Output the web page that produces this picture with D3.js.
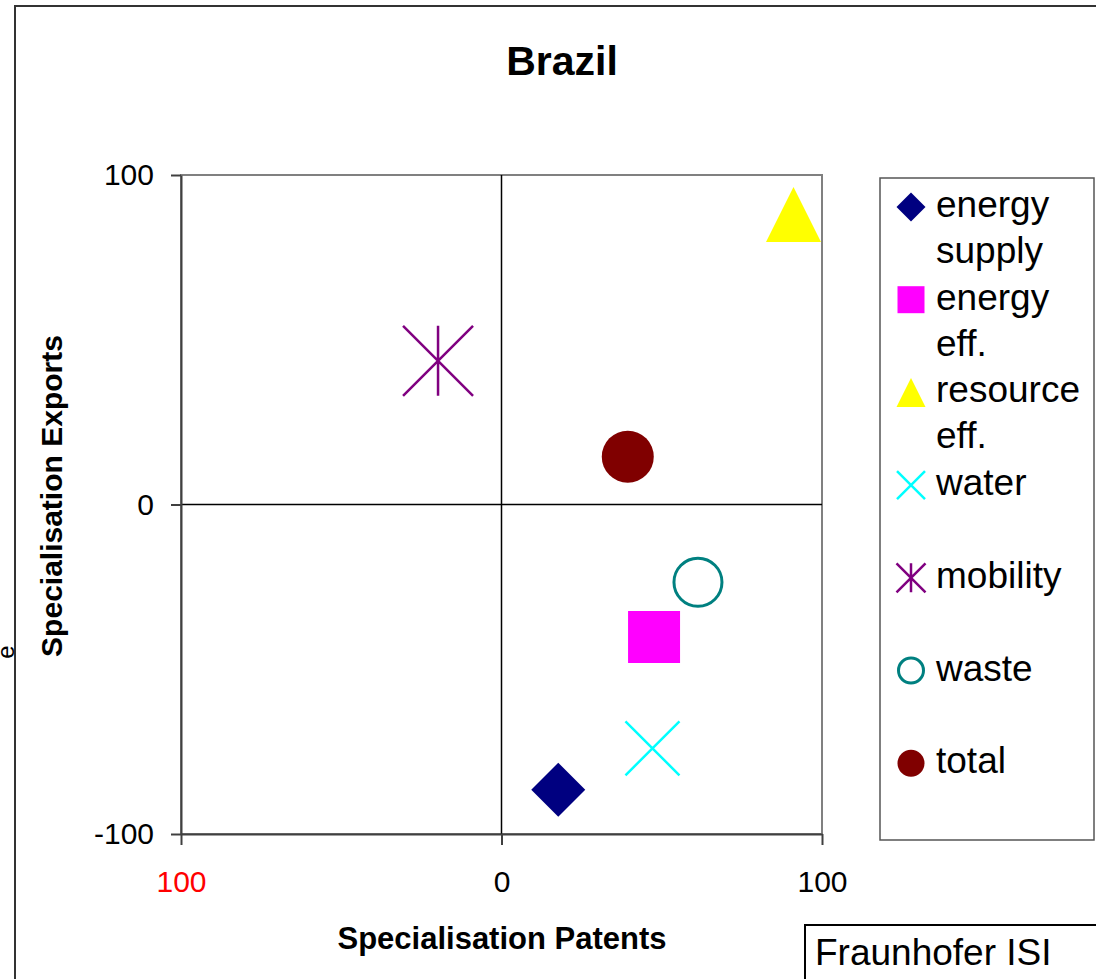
<!DOCTYPE html>
<html>
<head>
<meta charset="utf-8">
<script src="https://cdn.jsdelivr.net/npm/d3@7"></script>
<style>
  body { margin: 0; background: #fff; }
  svg { display: block; font-family: "Liberation Sans", Arial, sans-serif; }
</style>
</head>
<body>
<div id="chart"></div>
<script>
// =======================
// SCATTER CHART
// Brazil: specialisation patents vs exports
// =======================

const categories = ["energy supply", "energy eff.", "resource eff.", "water", "mobility", "waste", "total"];
const legendLines = [["energy", "supply"], ["energy", "eff."], ["resource", "eff."], ["water"], ["mobility"], ["waste"], ["total"]];
const patents = [17.7, 47.6, 91.1, 47.1, -19.8, 61.3, 39.4];
const exportsSpec = [-86.6, -40.2, 88.0, -74.0, 43.6, -23.6, 14.5];
const shapes = ["diamond", "square", "triangle", "x", "star", "ring", "circle"];
const colors = ["#000080", "#ff00ff", "#ffff00", "#00ffff", "#800080", "#008080", "#800000"];
const xTicks = [-100, 0, 100];
const xTickLabels = ["100", "0", "100"];
const yTicks = [-100, 0, 100];
const yTickLabels = ["-100", "0", "100"];

const width = 1096, height = 979;
const plot = { left: 181, top: 175, right: 822, bottom: 834 };

const svg = d3.select("#chart")
  .append("svg")
    .attr("width", width)
    .attr("height", height);

// Outer frame (runs off the right and bottom edges)
svg.append("rect")
  .attr("x", 15).attr("y", 6)
  .attr("width", 1200).attr("height", 1100)
  .attr("fill", "none")
  .attr("stroke", "#333")
  .attr("stroke-width", 2);

// letter of a neighbouring chart, left of the frame
svg.append("text")
  .attr("transform", "translate(13.5,652) rotate(-90)")
  .attr("text-anchor", "middle")
  .style("font-size", "24px")
  .text("e");

const x = d3.scaleLinear().domain([-100, 100]).range([plot.left, plot.right]);
const y = d3.scaleLinear().domain([-100, 100]).range([plot.bottom, plot.top]);

// Plot area border
svg.append("rect")
  .attr("x", plot.left).attr("y", plot.top)
  .attr("width", plot.right - plot.left).attr("height", plot.bottom - plot.top)
  .attr("fill", "none")
  .attr("stroke", "#808080")
  .attr("stroke-width", 2);

// Zero lines
svg.append("line")
  .attr("x1", x(0)).attr("x2", x(0))
  .attr("y1", y(-100)).attr("y2", y(100))
  .attr("stroke", "#000").attr("stroke-width", 1.5);
svg.append("line")
  .attr("x1", x(-100)).attr("x2", x(100))
  .attr("y1", y(0)).attr("y2", y(0))
  .attr("stroke", "#000").attr("stroke-width", 1.5);

// Axes
const xAxis = svg.append("g")
  .attr("transform", `translate(0,${plot.bottom})`)
  .call(d3.axisBottom(x).tickValues(xTicks).tickSize(11).tickSizeOuter(0).tickPadding(26)
    .tickFormat((d, i) => xTickLabels[i]));

const yAxis = svg.append("g")
  .attr("transform", `translate(${plot.left},0)`)
  .call(d3.axisLeft(y).tickValues(yTicks).tickSize(10).tickSizeOuter(0).tickPadding(17)
    .tickFormat((d, i) => yTickLabels[i]));

[xAxis, yAxis].forEach(g => {
  g.select(".domain").attr("stroke", "#404040").attr("stroke-width", 2);
  g.selectAll(".tick line").attr("stroke", "#404040").attr("stroke-width", 2);
  g.selectAll(".tick text")
    .attr("fill", "#000")
    .style("font-family", "'Liberation Sans', Arial, sans-serif")
    .style("font-size", "30px");
});
xAxis.selectAll(".tick text").filter((d, i) => i === 0).attr("fill", "#ff0000");

// Marker paths, s = full width in px
function markerPath(type, s) {
  const h = s / 2;
  switch (type) {
    case "diamond": return `M0,${-h}L${h},0L0,${h}L${-h},0Z`;
    case "square": return `M${-h},${-h}H${h}V${h}H${-h}Z`;
    case "triangle": return `M0,${-h}L${h},${h}L${-h},${h}Z`;
    case "x": return `M${-h},${-h}L${h},${h}M${h},${-h}L${-h},${h}`;
    case "star": return `M${-h},${-h}L${h},${h}M${h},${-h}L${-h},${h}M0,${-h}V${h}`;
    default: return `M${h},0A${h},${h},0,1,1,${-h},0A${h},${h},0,1,1,${h},0Z`;
  }
}
const markerSize = { diamond: 54, square: 52, triangle: 55, x: 54, star: 70, ring: 48, circle: 52 };
const legendSize = { diamond: 29, square: 27, triangle: 29, x: 28, star: 29, ring: 25, circle: 27 };

function styleMarker(sel, type, color) {
  if (type === "x" || type === "star") {
    sel.attr("fill", "none").attr("stroke", color).attr("stroke-width", 2.5);
  } else if (type === "ring") {
    sel.attr("fill", "none").attr("stroke", color).attr("stroke-width", 3);
  } else {
    sel.attr("fill", color).attr("stroke", "none");
  }
}

// Points
categories.forEach((c, i) => {
  const p = svg.append("path")
    .attr("transform", `translate(${x(patents[i])},${y(exportsSpec[i])})`)
    .attr("d", markerPath(shapes[i], markerSize[shapes[i]]));
  styleMarker(p, shapes[i], colors[i]);
});

// Title
svg.append("text")
  .attr("x", 562).attr("y", 75)
  .attr("text-anchor", "middle")
  .style("font-size", "41px")
  .style("font-weight", "bold")
  .text("Brazil");

// Axis titles
svg.append("text")
  .attr("x", 502).attr("y", 949)
  .attr("text-anchor", "middle")
  .style("font-size", "31px")
  .style("font-weight", "bold")
  .text("Specialisation Patents");

svg.append("text")
  .attr("transform", "translate(62,496) rotate(-90)")
  .attr("text-anchor", "middle")
  .style("font-size", "30px")
  .style("font-weight", "bold")
  .text("Specialisation Exports");

// Legend
svg.append("rect")
  .attr("x", 880).attr("y", 178)
  .attr("width", 214).attr("height", 662)
  .attr("fill", "#fff")
  .attr("stroke", "#555")
  .attr("stroke-width", 1.5);

categories.forEach((c, i) => {
  const cy = 207 + i * 92.7;
  const m = svg.append("path")
    .attr("transform", `translate(911,${cy})`)
    .attr("d", markerPath(shapes[i], legendSize[shapes[i]]));
  styleMarker(m, shapes[i], colors[i]);
  const t = svg.append("text")
    .attr("x", 936).attr("y", cy + 10)
    .style("font-size", "37px");
  legendLines[i].forEach((line, j) => {
    t.append("tspan").attr("x", 936).attr("dy", j === 0 ? 0 : 46).text(line);
  });
});

// Source box
svg.append("rect")
  .attr("x", 805).attr("y", 925)
  .attr("width", 400).attr("height", 100)
  .attr("fill", "#fff")
  .attr("stroke", "#000")
  .attr("stroke-width", 2);
svg.append("text")
  .attr("x", 815).attr("y", 965)
  .style("font-size", "37px")
  .text("Fraunhofer ISI");
</script>
</body>
</html>
